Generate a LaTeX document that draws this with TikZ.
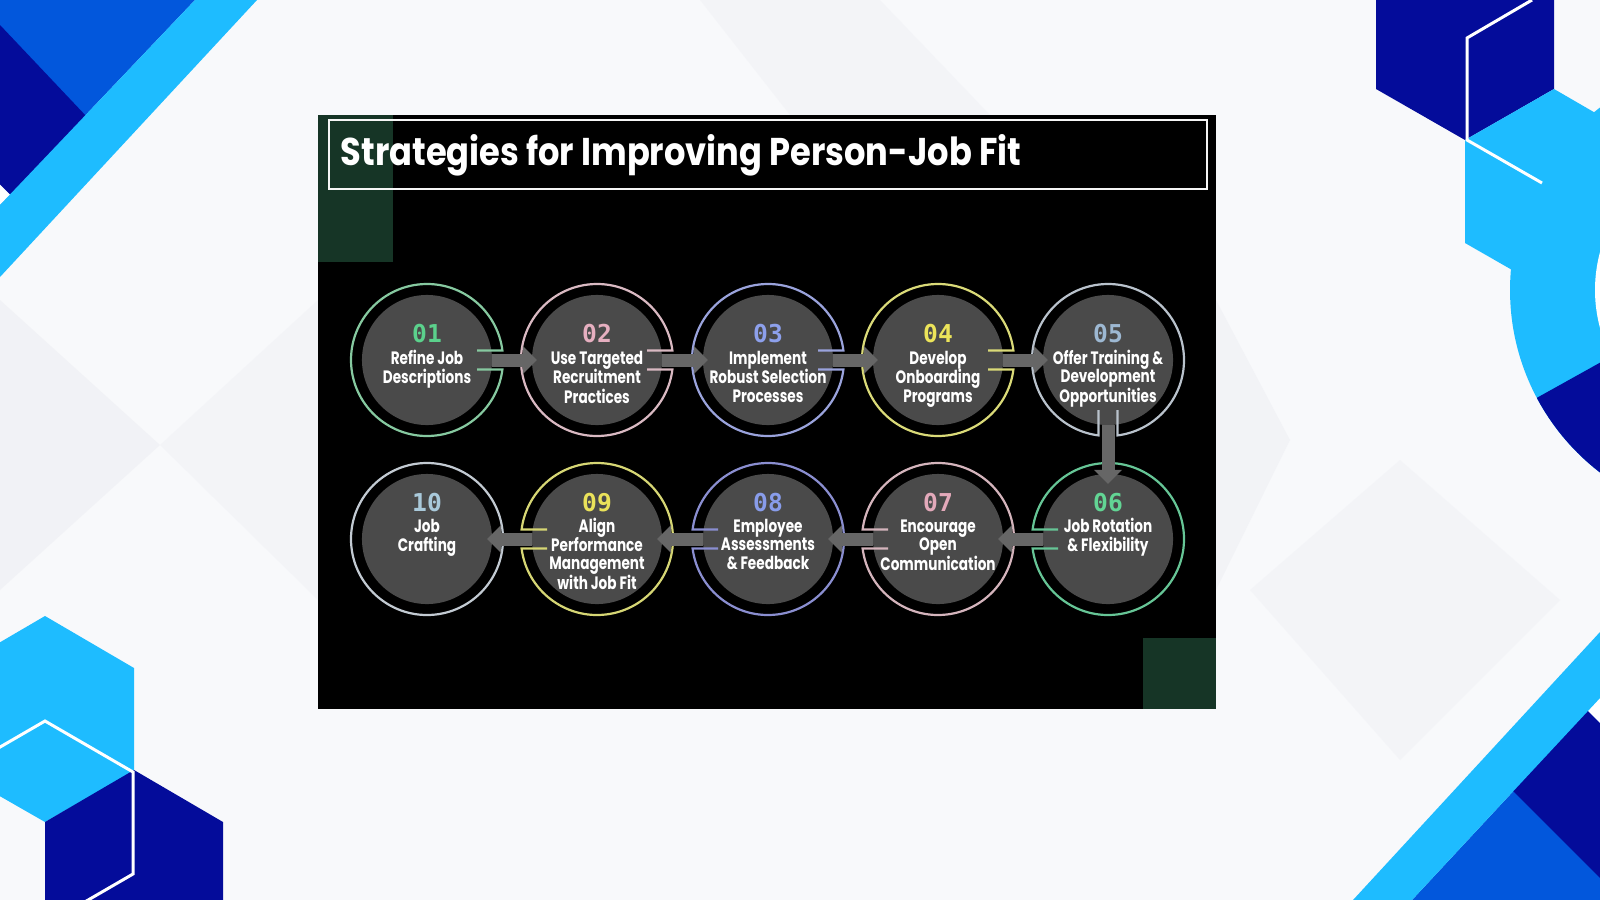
\documentclass[tikz,border=0pt]{standalone}
\usepackage{fontspec}
\usepackage{graphicx}
\setmainfont{Poppins}
\newfontfamily\numfont{DejaVu Sans Mono}
\usetikzlibrary{arrows.meta,calc,positioning}

\definecolor{bgbase}{HTML}{F8F9FB}
\definecolor{bgshade}{HTML}{EDEEF3}
\definecolor{navy}{HTML}{040C9A}
\definecolor{midblue}{HTML}{0257DC}
\definecolor{skyblue}{HTML}{1EBCFF}
\definecolor{panelgreen}{HTML}{163526}
\definecolor{diskgray}{HTML}{4A4A4A}
\definecolor{arrowgray}{HTML}{666666}
\definecolor{ring1}{HTML}{86C9A0}\definecolor{num1}{HTML}{5BD18C}
\definecolor{ring2}{HTML}{D9B9C2}\definecolor{num2}{HTML}{E6AFC0}
\definecolor{ring3}{HTML}{9AA3DC}\definecolor{num3}{HTML}{8DA0EC}
\definecolor{ring4}{HTML}{DADA78}\definecolor{num4}{HTML}{ECE45A}
\definecolor{ring5}{HTML}{B9C2CC}\definecolor{num5}{HTML}{9DB8D2}
\definecolor{ring6}{HTML}{66C596}\definecolor{num6}{HTML}{62D594}
\definecolor{ring7}{HTML}{D4B4BC}\definecolor{num7}{HTML}{E3A9BA}
\definecolor{ring8}{HTML}{8A8ED0}\definecolor{num8}{HTML}{889CEA}
\definecolor{ring9}{HTML}{D6D674}\definecolor{num9}{HTML}{EAE25A}
\definecolor{ring10}{HTML}{C2CAD2}\definecolor{num10}{HTML}{A9C9DA}

\newcommand{\squash}[1]{\scalebox{0.76}[1]{\begin{tabular}[t]{@{}c@{}}#1\end{tabular}}}

\tikzset{
  disk/.style={circle, fill=diskgray, minimum size=1.3cm, inner sep=0pt, outer sep=0pt},
  ring/.style={line width=0.022cm},
  numtext/.style={font=\numfont\bfseries\fontsize{7}{8}\selectfont, inner sep=0pt, anchor=base},
  steptext/.style={font=\bfseries\fontsize{5.1}{5.23}\selectfont, text=white, inner sep=0pt, anchor=base},
  flow/.style={draw=arrowgray, line width=0.13cm, -{Triangle[length=0.14cm,width=0.27cm]}, shorten >=-0.05cm},
}

\begin{document}
\begin{tikzpicture}[x=0.01cm, y=-0.01cm]
\useasboundingbox (0,0) rectangle (1600,900);
\clip (0,0) rectangle (1600,900);
\fill[bgbase] (0,0) rectangle (1600,900);
\fill[bgshade, opacity=0.6] (0,300) -- (160,445) -- (0,590) -- cycle;
\fill[bgshade, opacity=0.4] (160,445) -- (318,300) -- (318,600) -- cycle;
\fill[bgshade, opacity=0.4] (700,0) -- (880,0) -- (990,115) -- (790,115) -- cycle;
\fill[bgshade, opacity=0.5] (1216,300) -- (1290,440) -- (1216,590) -- cycle;
\fill[bgshade, opacity=0.4] (1250,590) -- (1400,460) -- (1560,600) -- (1400,760) -- cycle;

% corner shapes
\fill[midblue] (0,0) -- (195,0) -- (0,205) -- cycle;
\fill[navy] (0,25) -- (87,117) -- (10,194.5) -- (0,184.5) -- cycle;
\fill[white] (0,184.5) -- (10,194.5) -- (0,205) -- cycle;
\fill[skyblue] (195,0) -- (257,0) -- (0,277) -- (0,205) -- cycle;

\fill[navy] (1376,0) -- (1554,0) -- (1554,89) -- (1465,140) -- (1376,89) -- cycle;
\fill[skyblue] (1554,89) -- (1642,140) -- (1642,243) -- (1554,294) -- (1465,243) -- (1465,140) -- cycle;
\fill[skyblue] (1740,290) circle[radius=230];
\begin{scope}
  \clip (1400,474) -- (1700,307) -- (1700,900) -- (1400,900) -- cycle;
  \fill[navy] (1740,290) circle[radius=230];
\end{scope}
\fill[white] (1740,290) circle[radius=145];
\draw[white, line width=0.03cm] (1532,0) -- (1467,38) -- (1467,140) -- (1542,183);

\fill[skyblue] (45,616) -- (134,668) -- (134,771) -- (45,822) -- (-44,771) -- (-44,668) -- cycle;
\fill[navy] (134,770) -- (223,822) -- (223,925) -- (134,976) -- (45,925) -- (45,822) -- cycle;
\draw[white, line width=0.03cm] (-43,772) -- (45,721) -- (133,772) -- (133,874) -- (45,925);

\fill[midblue] (1412,900) -- (1600,698) -- (1600,900) -- cycle;
\fill[navy] (1512,790) -- (1587,710) -- (1600,723) -- (1600,878) -- cycle;
\fill[white] (1587,710) -- (1600,697) -- (1600,723) -- cycle;
\fill[skyblue] (1353,900) -- (1600,632) -- (1600,698) -- (1412,900) -- cycle;

% panel
\fill[black] (318,115) rectangle (1216,709);
\fill[panelgreen] (318,115) rectangle (393,262);
\fill[panelgreen] (1143,638) rectangle (1216,709);
\draw[white!92!gray, line width=0.025cm] (329,120) rectangle (1207,189);
\node[font=\bfseries\fontsize{11}{13}\selectfont, text=white, inner sep=0pt, anchor=base west] (title) at (340,165)
  {\resizebox{6.8cm}{\height}{Strategies for Improving Person-Job Fit}};

\foreach \i/\cx/\cy in {1/427/360, 2/597/360, 3/768/360, 4/938/360, 5/1108/360,
                        6/1108/539, 7/938/539, 8/768/539, 9/597/539, 10/427/539}
  \node[disk] (c\i) at (\cx,\cy) {};

\foreach \i/\cx/\cy/\dir in {1/427/360/0, 2/597/360/0, 3/768/360/0, 4/938/360/0, 5/1108/360/-90,
                             6/1108/539/180, 7/938/539/180, 8/768/539/180, 9/597/539/180}
  \draw[ring, draw=ring\i, shift={(\cx,\cy)}, rotate=\dir]
    (50,-9.5) -- (75.4,-9.5) arc[start angle=-7.18, end angle=-352.82, radius=76] -- (50,9.5);
\draw[ring, draw=ring10] (c10) circle[radius=76];

\foreach \a/\b in {1/2, 2/3, 3/4, 4/5, 6/7, 7/8, 8/9, 9/10}
  \draw[flow] (c\a) -- (c\b);
\draw[flow, shorten >=-0.1cm] (c5) -- (c6);

\foreach \i/\num/\ndy/\ldy/\txt in {
    1/01/-18/4/{Refine Job\\Descriptions},
    2/02/-18/4/{Use Targeted\\Recruitment\\Practices},
    3/03/-18/4/{Implement\\Robust Selection\\Processes},
    4/04/-18/4/{Develop\\Onboarding\\Programs},
    5/05/-18/4/{Offer Training \&\\Development\\Opportunities},
    6/06/-28/-7/{Job Rotation\\\& Flexibility},
    7/07/-28/-7/{Encourage\\Open\\Communication},
    8/08/-28/-7/{Employee\\Assessments\\\& Feedback},
    9/09/-28/-7/{Align\\Performance\\Management\\with Job Fit},
    10/10/-28/-7/{Job\\Crafting}}
{
  \node[numtext, text=num\i] (n\i) at ($(c\i)+(0,\ndy)$) {\num};
  \node[steptext] (l\i) at ($(c\i)+(0,\ldy)$) {\squash{\txt}};
}
\end{tikzpicture}
\end{document}
